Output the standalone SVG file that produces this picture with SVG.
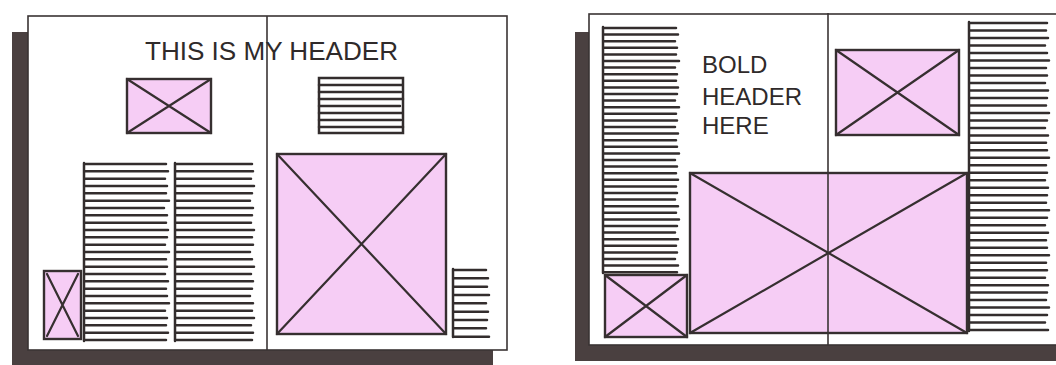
<svg xmlns="http://www.w3.org/2000/svg" width="1056" height="365" viewBox="0 0 1056 365">
<style>
.shadow{fill:#4a4040}
.page{fill:#fff;stroke:#3a3434;stroke-width:1.6}
.spine{stroke:#3a3434;stroke-width:1.6;fill:none}
.img rect{fill:#f6cdf5;stroke:#362f30;stroke-width:2.4}
.img path{stroke:#362f30;stroke-width:2.2;fill:none;stroke-linecap:round}
.txt{stroke:#332d2d;stroke-width:2.5;fill:none;stroke-linecap:round}
.hdr{font-family:"Liberation Sans",Arial,sans-serif;fill:#2f2a2a;font-weight:normal}
</style>
<rect width="1056" height="365" fill="#fff"/>
<!-- Left spread -->
<g id="left-spread">
<rect class="shadow" x="12" y="32" width="17" height="333"/>
<rect class="shadow" x="12" y="350" width="481" height="15"/>
<rect class="page" x="28" y="16" width="479" height="334"/>
<line class="spine" x1="267" y1="16" x2="267" y2="350"/>
<text class="hdr" x="145" y="60" font-size="26" textLength="253" lengthAdjust="spacingAndGlyphs">THIS IS MY HEADER</text>
<g id="img-a" class="img"><rect x="127" y="79" width="84" height="54"/><path d="M127 79L211 133M127 133L211 79"/></g>
<g id="txt-a" class="txt"><rect x="319" y="78" width="84" height="55"/><path d="M319 85H402M319 92H401M319 99H403M319 106H400M319 113H402M319 120H401M319 127H403"/></g>
<g id="col-1" class="txt"><path d="M84 163V341M84 164H166M84 171.3H168M84 178.7H165M84 186H167M84 193.3H166M84 200.7H169M84 208H164M84 215.3H167M84 222.7H166M84 230H168M84 237.3H167M84 244.7H165M84 252H169M84 259.3H166M84 266.7H167M84 274H165M84 281.3H168M84 288.7H166M84 296H167M84 303.3H169M84 310.7H165M84 318H167M84 325.3H166M84 332.7H168M84 340H166"/></g>
<g id="col-2" class="txt"><path d="M175 163V341M175 164H252M175 171.3H253M175 178.7H251M175 186H254M175 193.3H252M175 200.7H250M175 208H253M175 215.3H252M175 222.7H251M175 230H254M175 237.3H252M175 244.7H253M175 252H250M175 259.3H252M175 266.7H254M175 274H251M175 281.3H253M175 288.7H252M175 296H250M175 303.3H253M175 310.7H252M175 318H254M175 325.3H251M175 332.7H253M175 340H252"/></g>
<g id="img-b" class="img"><rect x="44" y="271" width="37" height="68"/><path d="M47 274L78 336M47 336L78 274"/></g>
<g id="img-c" class="img"><rect x="277" y="154" width="169" height="180"/><path d="M277 154L446 334M277 334L446 154"/></g>
<g id="txt-c" class="txt"><path d="M453 269V337M453 270H486M453 278.3H488M453 286.7H487M453 295H489M453 303.3H486M453 311.7H488M453 320H487M453 328.3H486M453 336.7H489"/></g>
</g>
<!-- Right spread -->
<g id="right-spread">
<rect class="shadow" x="575" y="32" width="17" height="329"/>
<rect class="shadow" x="575" y="345" width="481" height="16"/>
<rect class="page" x="589" y="14" width="480" height="331"/>
<g id="col-3" class="txt"><path d="M603 27V273M603 28H676M603 34.6H678M603 41.2H675M603 47.8H677M603 54.4H676M603 61H679M603 67.6H675M603 74.2H677M603 80.8H676M603 87.4H678M603 94H677M603 100.6H675M603 107.2H679M603 113.8H676M603 120.4H677M603 127H675M603 133.6H678M603 140.2H676M603 146.8H677M603 153.4H679M603 160H675M603 166.6H677M603 173.2H676M603 179.8H678M603 186.4H676M603 193H677M603 199.6H675M603 206.2H678M603 212.8H676M603 219.4H679M603 226H677M603 232.6H675M603 239.2H678M603 245.8H676M603 252.4H677M603 259H675M603 265.6H678M603 272.2H677"/></g>
<text class="hdr" font-size="24"><tspan x="702" y="73">BOLD</tspan><tspan x="702" y="105">HEADER</tspan><tspan x="702" y="134">HERE</tspan></text>
<g id="img-d" class="img"><rect x="836" y="50" width="123" height="85"/><path d="M836 50L959 135M836 135L959 50"/></g>
<g id="col-4" class="txt"><path d="M969 22V331M969 23H1047M969 30.5H1046M969 38H1048M969 45.5H1045M969 53H1047M969 60.5H1049M969 68H1046M969 75.4H1047M969 82.9H1045M969 90.4H1048M969 97.9H1047M969 105.4H1046M969 112.9H1049M969 120.4H1047M969 127.9H1045M969 135.4H1048M969 142.8H1046M969 150.3H1047M969 157.8H1049M969 165.3H1046M969 172.8H1047M969 180.3H1045M969 187.8H1048M969 195.3H1047M969 202.8H1046M969 210.3H1049M969 217.7H1047M969 225.2H1045M969 232.7H1048M969 240.2H1046M969 247.7H1047M969 255.2H1049M969 262.7H1046M969 270.2H1047M969 277.7H1045M969 285.2H1048M969 292.6H1047M969 300.1H1046M969 307.6H1049M969 315.1H1047M969 322.6H1045M969 330H1048"/></g>
<g id="img-e" class="img"><rect x="690" y="173" width="277" height="160"/><path d="M690 173L967 333M690 333L967 173"/></g>
<g id="img-f" class="img"><rect x="605" y="275" width="82" height="62"/><path d="M605 275L687 337M605 337L687 275"/></g>
<line class="spine" x1="828" y1="13" x2="828" y2="345"/>
</g>
</svg>
